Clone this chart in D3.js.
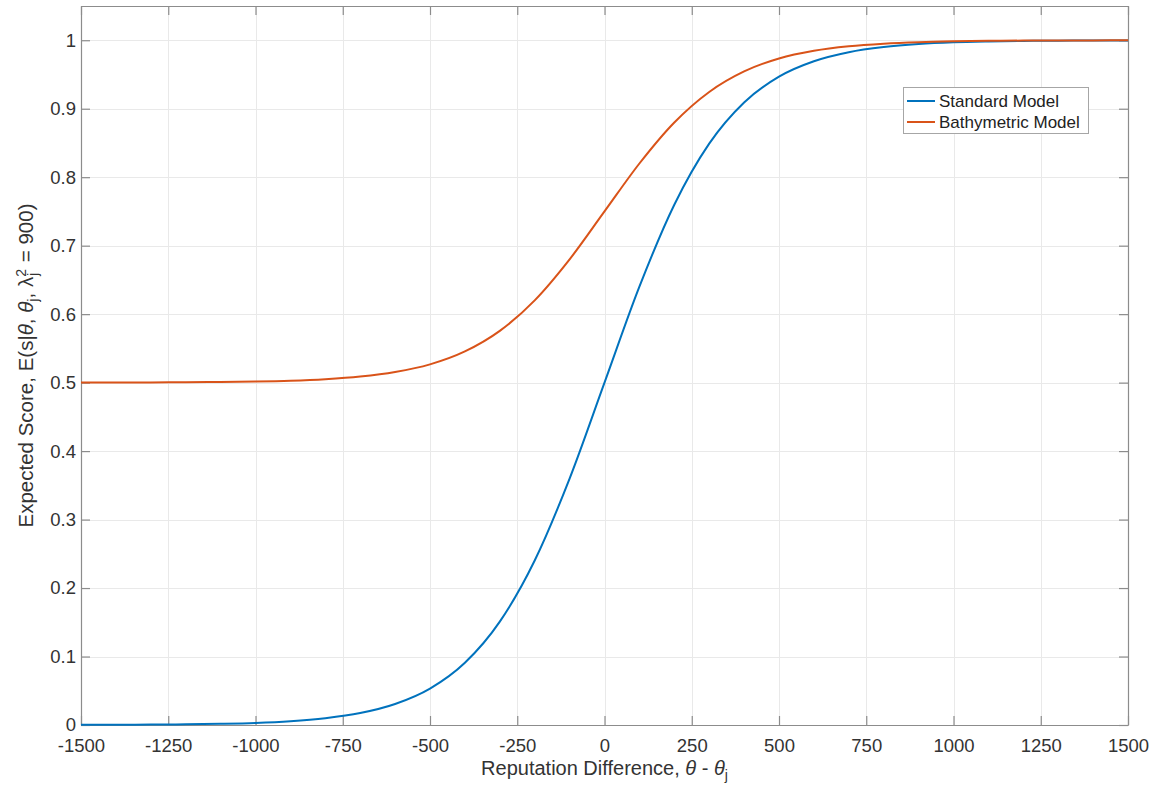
<!DOCTYPE html>
<html>
<head>
<meta charset="utf-8">
<script src="https://cdn.jsdelivr.net/npm/d3@7"></script>
<style>
  body { margin: 0; background: #fff; }
  text { font-family: "Liberation Sans", Arial, Helvetica, sans-serif; }
</style>
</head>
<body>
<svg id="chart" width="1156" height="789"></svg>
<script>
// Reputation difference (theta - theta_j)
const diffs = [-1500, -1400, -1300, -1200, -1100, -1000, -900, -800, -700, -600,
               -500, -400, -300, -200, -100, 0, 100, 200, 300, 400,
               500, 600, 700, 800, 900, 1000, 1100, 1200, 1300, 1400, 1500];

// Expected score, standard model
const standardModel = [0.0002, 0.0003, 0.0006, 0.0010, 0.0018, 0.0031, 0.0056, 0.0100, 0.0175, 0.0307,
                       0.0532, 0.0909, 0.1510, 0.2402, 0.3599, 0.5000, 0.6401, 0.7598, 0.8490, 0.9091,
                       0.9468, 0.9693, 0.9825, 0.9900, 0.9944, 0.9969, 0.9982, 0.9990, 0.9994, 0.9997, 0.9998];

// Expected score, bathymetric model
const bathymetricModel = [0.5001, 0.5002, 0.5003, 0.5005, 0.5009, 0.5016, 0.5028, 0.5050, 0.5088, 0.5154,
                          0.5266, 0.5455, 0.5755, 0.6201, 0.6800, 0.7500, 0.8200, 0.8799, 0.9245, 0.9545,
                          0.9734, 0.9846, 0.9912, 0.9950, 0.9972, 0.9984, 0.9991, 0.9995, 0.9997, 0.9998, 0.9999];

const xTicks = [-1500, -1250, -1000, -750, -500, -250, 0, 250, 500, 750, 1000, 1250, 1500];
const yTicks = [0, 0.1, 0.2, 0.3, 0.4, 0.5, 0.6, 0.7, 0.8, 0.9, 1];
const seriesNames = ["Standard Model", "Bathymetric Model"];
const seriesColors = ["#0072BD", "#D95319"];

const svg = d3.select("#chart");
const plotLeft = 81, plotRight = 1128, plotTop = 6, plotBottom = 725;

const x = d3.scaleLinear().domain([-1500, 1500]).range([plotLeft, plotRight]);
const y = d3.scaleLinear().domain([0, 1.05]).range([plotBottom, plotTop]);

const axisColor = "#8c8c8c";
const textColor = "#333";
const tickFont = 18.5;

// plot background
svg.append("rect").attr("x", plotLeft).attr("y", plotTop)
  .attr("width", plotRight - plotLeft).attr("height", plotBottom - plotTop).attr("fill", "#fff");

// grid
const grid = svg.append("g").attr("stroke", "#e9e9e9").attr("stroke-width", 1);
grid.selectAll("line.gx").data(xTicks).join("line").attr("class", "gx")
  .attr("x1", d => Math.round(x(d)) + 0.5).attr("x2", d => Math.round(x(d)) + 0.5)
  .attr("y1", plotTop).attr("y2", plotBottom);
grid.selectAll("line.gy").data(yTicks).join("line").attr("class", "gy")
  .attr("y1", d => Math.round(y(d)) + 0.5).attr("y2", d => Math.round(y(d)) + 0.5)
  .attr("x1", plotLeft).attr("x2", plotRight);

// axes (ticks pointing inward, box on all four sides)
function styleAxis(g, hideLabels) {
  g.select(".domain").attr("stroke", axisColor).attr("stroke-width", 1.2);
  g.selectAll(".tick line").attr("stroke", axisColor).attr("stroke-width", 1.2);
  g.selectAll(".tick text").attr("fill", textColor).style("font-size", tickFont + "px")
    .style("font-family", '"Liberation Sans", Arial, Helvetica, sans-serif');
  if (hideLabels) g.selectAll(".tick text").remove();
}

svg.append("g").attr("transform", `translate(0,${plotBottom})`)
  .call(d3.axisBottom(x).tickValues(xTicks).tickFormat(d => String(d))
    .tickSizeInner(-9).tickSizeOuter(0).tickPadding(14))
  .call(g => styleAxis(g, false));

svg.append("g").attr("transform", `translate(0,${plotTop})`)
  .call(d3.axisTop(x).tickValues(xTicks).tickSizeInner(-9).tickSizeOuter(0))
  .call(g => styleAxis(g, true));

svg.append("g").attr("transform", `translate(${plotLeft},0)`)
  .call(d3.axisLeft(y).tickValues(yTicks).tickFormat(d => String(+d.toFixed(1)))
    .tickSizeInner(-9).tickSizeOuter(0).tickPadding(5))
  .call(g => styleAxis(g, false));

svg.append("g").attr("transform", `translate(${plotRight},0)`)
  .call(d3.axisRight(y).tickValues(yTicks).tickSizeInner(-9).tickSizeOuter(0))
  .call(g => styleAxis(g, true));

// curves
const line = d3.line().x((d, i) => x(diffs[i])).y(d => y(d)).curve(d3.curveMonotoneX);
[standardModel, bathymetricModel].forEach((vals, k) => {
  svg.append("path").datum(vals)
    .attr("fill", "none").attr("stroke", seriesColors[k]).attr("stroke-width", 2)
    .attr("d", line);
});

// x-axis label
const xl = svg.append("text").attr("x", (plotLeft + plotRight) / 2).attr("y", 775)
  .attr("text-anchor", "middle").attr("fill", textColor).style("font-size", "20px");
xl.append("tspan").text("Reputation Difference, ");
xl.append("tspan").attr("font-style", "italic").text("θ");
xl.append("tspan").text(" - ");
xl.append("tspan").attr("font-style", "italic").text("θ");
xl.append("tspan").attr("baseline-shift", "-35%").style("font-size", "14px").text("j");

// y-axis label
const yl = svg.append("text")
  .attr("transform", `translate(33,${(plotTop + plotBottom) / 2}) rotate(-90)`)
  .attr("text-anchor", "middle").attr("fill", textColor).style("font-size", "20.5px");
yl.append("tspan").text("Expected Score, E(s|");
yl.append("tspan").attr("font-style", "italic").text("θ");
yl.append("tspan").text(", ");
yl.append("tspan").attr("font-style", "italic").text("θ");
yl.append("tspan").attr("baseline-shift", "-35%").style("font-size", "14px").text("j");
yl.append("tspan").text(", λ");
yl.append("tspan").attr("baseline-shift", "50%").style("font-size", "14px").text("2");
yl.append("tspan").attr("dx", -7).attr("baseline-shift", "-35%").style("font-size", "14px").text("j");
yl.append("tspan").attr("dx", 5).text(" = 900)");

// legend
const lg = svg.append("g");
lg.append("rect").attr("x", 903.5).attr("y", 87.5).attr("width", 185).attr("height", 46)
  .attr("fill", "#fff").attr("stroke", "#a6a6a6").attr("stroke-width", 1);
seriesNames.forEach((name, k) => {
  const cy = 101 + k * 21;
  lg.append("line").attr("x1", 907).attr("x2", 935).attr("y1", cy).attr("y2", cy)
    .attr("stroke", seriesColors[k]).attr("stroke-width", 2);
  lg.append("text").attr("x", 939).attr("y", cy).attr("dy", "0.35em")
    .attr("fill", "#222").style("font-size", "17px").text(name);
});
</script>
</body>
</html>
